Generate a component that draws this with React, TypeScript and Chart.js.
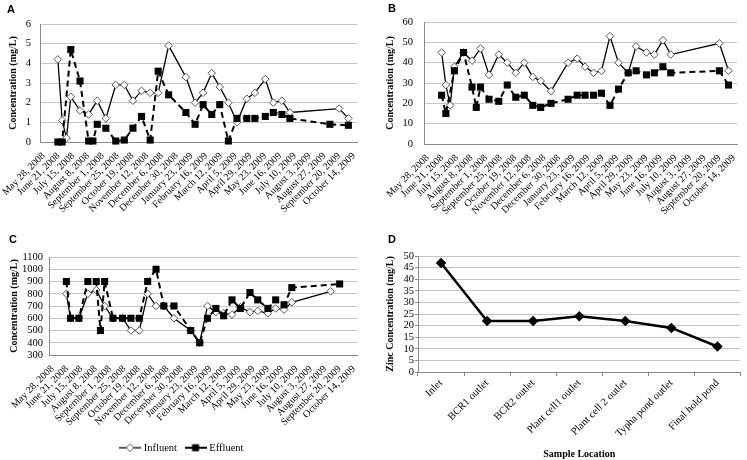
import React, { useEffect, useRef } from "react";
import { Chart, registerables } from "chart.js";

Chart.register(...registerables);

// ---------- data ----------
const TICK_LABELS = [
  "May 28, 2008", "June 21, 2008", "July 15, 2008", "August 8, 2008",
  "September 1, 2008", "September 25, 2008", "October 19, 2008", "November 12, 2008",
  "December 6, 2008", "December 30, 2008", "January 23, 2009", "February 16, 2009",
  "March 12, 2009", "April 5, 2009", "April 29, 2009", "May 23, 2009",
  "June 16, 2009", "July 10, 2009", "August 3, 2009", "August 27, 2009",
  "September 20, 2009", "October 14, 2009",
];

// sampling dates, in days after May 28, 2008
const SAMPLE_DAYS = [23, 30, 37, 44, 59, 73, 80, 87, 101, 117, 131, 145, 159, 173, 186, 203,
  231, 246, 259, 273, 286, 300, 314, 330, 343, 360, 373, 387, 400, 465, 480, 495];

const A_INFLUENT = [4.2, 1.1, 0.2, 2.3, 1.6, 1.4, null, 2.1, 1.2, 2.9, 2.9, 2.1, 2.6, 2.5, 2.5, 4.9,
  3.3, 2.0, 2.5, 3.5, 2.8, 2.0, 1.0, 2.2, 2.5, 3.2, 2.0, 2.1, 1.5, null, 1.7, 1.2];
const A_EFFLUENT = [0, 0, null, 4.7, 3.1, 0.05, 0.05, 0.9, 0.7, 0.05, 0.1, 0.7, 1.3, 0.1, 3.6, 2.4,
  1.5, 0.9, 1.9, 1.4, 1.9, 0.05, 1.2, 1.2, 1.2, 1.3, 1.5, 1.4, 1.2, 0.9, null, 0.85];

const B_INFLUENT = [45, 29, 19, 38, 45, 41, null, 47, 34, 44, 40, 35, 40, 33, 31, 26,
  40, 42, 38, 35, 36, 53, 40, 35, 48, 45, 44, 51, 44, null, 49.5, 36];
const B_EFFLUENT = [24, 15, null, 36, 45, 28, 18, 28, 22, 21, 29, 23, 24, 19, 18, 20,
  22, 24, 24, 24, 25, 19, 27, 35, 36, 34, 35, 38, 35, null, 36, 29];

const C_INFLUENT = [800, 600, null, 600, 800, 830, null, 700, 600, 600, 500, 500, 800, 700, 700, 600,
  500, 400, 700, 650, 640, 630, 690, 650, 660, 640, 680, 670, 730, 820, null, null];
const C_EFFLUENT = [900, 600, null, 600, 900, 900, 500, 900, 600, 600, 600, 600, 900, 1000, 700, 700,
  500, 400, 600, 680, 620, 750, 680, 810, 750, 680, 750, 710, 850, null, 880, null];

const LOCATIONS = ["Inlet", "BCR1 outlet", "BCR2 outlet", "Plant cell1 outlet",
  "Plant cell 2 outlet", "Typha pond outlet", "Final hold pond"];
const ZINC = [47, 22, 22, 24, 22, 19, 11];

// ---------- style ----------
const SERIF = "'Liberation Serif', 'Times New Roman', serif";
const SANS = "'Liberation Sans', Arial, sans-serif";
const GRID = "#c4c4c4";
const AXIS = "#8a8a8a";
const X_MIN = -6;
const X_MAX = 509;

const BASE = Date.parse("May 28, 2008");
const TICK_DAYS = TICK_LABELS.map((l) => Math.round((Date.parse(l) - BASE) / 86400000));

function legendIcon(kind: string) {
  const c = document.createElement("canvas");
  c.width = 22;
  c.height = 10;
  const g = c.getContext("2d") as CanvasRenderingContext2D;
  g.strokeStyle = "#000";
  g.lineWidth = kind === "inf" ? 1.3 : 2;
  g.beginPath();
  g.moveTo(0, 5);
  g.lineTo(22, 5);
  g.stroke();
  if (kind === "inf") {
    g.fillStyle = "#fff";
    g.strokeStyle = "#555";
    g.lineWidth = 1;
    g.beginPath();
    g.moveTo(11 - 3.8, 5);
    g.lineTo(11, 5 - 3.8);
    g.lineTo(11 + 3.8, 5);
    g.lineTo(11, 5 + 3.8);
    g.closePath();
    g.fill();
    g.stroke();
  } else {
    g.fillStyle = "#000";
    g.fillRect(7.5, 1.5, 7, 7);
  }
  return c;
}

type PanelProps = {
  left: number;
  top: number;
  w: number;
  h: number;
  pad: { left: number; right: number; top: number; bottom: number };
  yWidth: number;
  yTickPad: number;
  xHeight: number;
  yMin: number;
  yMax: number;
  yStep: number;
  infl: (number | null)[];
  effl: (number | null)[];
  legend?: boolean;
};

function TimePanel(p: PanelProps) {
  const ref = useRef<HTMLCanvasElement>(null);
  useEffect(() => {
    const pts = (arr: (number | null)[]) =>
      SAMPLE_DAYS.map((d, i) => ({ x: d, y: arr[i] })).filter((q) => q.y !== null);
    const icons = [legendIcon("inf"), legendIcon("eff")];
    const chart = new Chart(ref.current as HTMLCanvasElement, {
      type: "line",
      data: {
        datasets: [
          {
            label: "Influent",
            data: pts(p.infl) as any,
            borderColor: "#000",
            borderWidth: 1.3,
            pointStyle: "rectRot",
            pointRadius: 3.8,
            pointBackgroundColor: "#fff",
            pointBorderColor: "#555",
            pointBorderWidth: 1,
            order: 1,
            clip: false as any,
          },
          {
            label: "Effluent",
            data: pts(p.effl) as any,
            borderColor: "#000",
            borderWidth: 2,
            borderDash: [6, 4],
            pointStyle: "rect",
            pointRadius: 5,
            pointBackgroundColor: "#000",
            pointBorderColor: "#000",
            pointBorderWidth: 0,
            order: 0,
            clip: false as any,
          },
        ],
      },
      options: {
        responsive: false,
        animation: false,
        events: [],
        layout: { padding: p.pad },
        plugins: {
          tooltip: { enabled: false },
          legend: p.legend
            ? {
                display: true,
                position: "bottom",
                labels: {
                  usePointStyle: true,
                  pointStyleWidth: 17,
                  boxHeight: 10,
                  padding: 10,
                  color: "#000",
                  font: { family: SERIF, size: 10.5 },
                  sort: (a: any, b: any) => a.datasetIndex - b.datasetIndex,
                  generateLabels: (chart: any) => {
                    const items = (Chart.defaults.plugins.legend.labels as any).generateLabels(chart);
                    return items.map((it: any) => ({ ...it, pointStyle: icons[it.datasetIndex] }));
                  },
                },
              }
            : { display: false },
        },
        scales: {
          x: {
            type: "linear",
            min: X_MIN,
            max: X_MAX,
            afterBuildTicks: (s: any) => {
              s.ticks = TICK_DAYS.map((v) => ({ value: v }));
            },
            afterFit: (s: any) => {
              s.height = p.xHeight;
              s.paddingLeft = 0;
              s.paddingRight = 0;
            },
            grid: { display: false, drawTicks: false },
            border: { display: true, color: AXIS, width: 1 },
            ticks: {
              autoSkip: false,
              minRotation: 45,
              maxRotation: 45,
              padding: 8,
              color: "#000",
              font: { family: SERIF, size: 10 },
              callback: (_v: any, i: number) => TICK_LABELS[i],
            },
          },
          y: {
            min: p.yMin,
            max: p.yMax,
            afterFit: (s: any) => {
              s.width = p.yWidth;
            },
            ticks: {
              stepSize: p.yStep,
              autoSkip: false,
              padding: p.yTickPad,
              color: "#000",
              font: { family: SERIF, size: 10.5 },
              callback: (v: any) => String(v),
            },
            grid: { color: GRID, drawTicks: false },
            border: { display: true, color: AXIS },
            title: {
              display: true,
              text: "Concentration (mg/L)",
              color: "#000",
              font: { family: SERIF, size: 10, weight: "bold" },
              padding: { top: 0, bottom: 0 },
            },
          },
        },
      } as any,
    });
    return () => chart.destroy();
  }, []);
  return (
    <canvas
      ref={ref}
      width={p.w}
      height={p.h}
      style={{ position: "absolute", left: p.left, top: p.top, display: "block" }}
    />
  );
}

function ZincPanel() {
  const ref = useRef<HTMLCanvasElement>(null);
  useEffect(() => {
    const chart = new Chart(ref.current as HTMLCanvasElement, {
      type: "line",
      data: {
        labels: LOCATIONS,
        datasets: [
          {
            label: "Zinc",
            data: ZINC,
            borderColor: "#000",
            borderWidth: 2.5,
            pointStyle: "rectRot",
            pointRadius: 3.5,
            pointBackgroundColor: "#000",
            pointBorderColor: "#000",
            clip: false as any,
          },
        ],
      },
      options: {
        responsive: false,
        animation: false,
        events: [],
        layout: { padding: { left: 9, right: 2, top: 26, bottom: 0 } },
        plugins: { legend: { display: false }, tooltip: { enabled: false } },
        scales: {
          x: {
            offset: true,
            afterFit: (s: any) => {
              s.height = 88;
              s.paddingLeft = 0;
              s.paddingRight = 0;
            },
            grid: { drawOnChartArea: false, drawTicks: true, tickLength: 4, tickColor: AXIS, offset: true },
            border: { display: true, color: AXIS },
            ticks: {
              autoSkip: false,
              minRotation: 45,
              maxRotation: 45,
              padding: 1,
              color: "#000",
              font: { family: SERIF, size: 10.5 },
            },
            title: {
              display: true,
              text: "Sample Location",
              color: "#000",
              font: { family: SERIF, size: 10, weight: "bold" },
              padding: { top: 0, bottom: 0 },
            },
          },
          y: {
            min: 0,
            max: 50,
            afterFit: (s: any) => {
              s.width = 34;
            },
            ticks: {
              stepSize: 5,
              autoSkip: false,
              padding: 1,
              color: "#000",
              font: { family: SERIF, size: 10.5 },
              callback: (v: any) => String(v),
            },
            grid: { color: GRID, drawTicks: true, tickLength: 3, tickColor: AXIS },
            border: { display: true, color: AXIS },
            title: {
              display: true,
              text: "Zinc Concentration (mg/L)",
              color: "#000",
              font: { family: SERIF, size: 10, weight: "bold" },
              padding: { top: 0, bottom: 0 },
            },
          },
        },
      } as any,
    });
    return () => chart.destroy();
  }, []);
  return (
    <canvas
      ref={ref}
      width={372}
      height={230}
      style={{ position: "absolute", left: 375, top: 230, display: "block" }}
    />
  );
}

const letterStyle = (left: number, top: number): React.CSSProperties => ({
  position: "absolute",
  left,
  top,
  font: `bold 11px ${SANS}`,
  lineHeight: "14px",
  color: "#000",
});

export default function App() {
  return (
    <div
      style={{
        position: "absolute",
        left: 0,
        top: 0,
        width: 747,
        height: 460,
        overflow: "hidden",
        background: "#fff",
      }}
    >
      <TimePanel
        left={0}
        top={0}
        w={372}
        h={232}
        pad={{ left: 7, right: 15, top: 24, bottom: 0 }}
        yWidth={33}
        yTickPad={9}
        xHeight={90}
        yMin={0}
        yMax={6}
        yStep={1}
        infl={A_INFLUENT}
        effl={A_EFFLUENT}
      />
      <TimePanel
        left={375}
        top={0}
        w={372}
        h={232}
        pad={{ left: 9, right: 10, top: 22, bottom: 0 }}
        yWidth={40}
        yTickPad={11}
        xHeight={88}
        yMin={0}
        yMax={60}
        yStep={10}
        infl={B_INFLUENT}
        effl={B_EFFLUENT}
      />
      <TimePanel
        left={0}
        top={230}
        w={372}
        h={233}
        pad={{ left: 8, right: 15, top: 27, bottom: 0 }}
        yWidth={41}
        yTickPad={6}
        xHeight={77.5}
        yMin={300}
        yMax={1100}
        yStep={100}
        infl={C_INFLUENT}
        effl={C_EFFLUENT}
        legend
      />
      <ZincPanel />
      <div style={letterStyle(7, 2)}>A</div>
      <div style={letterStyle(388, 1)}>B</div>
      <div style={letterStyle(9, 232)}>C</div>
      <div style={letterStyle(388, 232)}>D</div>
    </div>
  );
}
